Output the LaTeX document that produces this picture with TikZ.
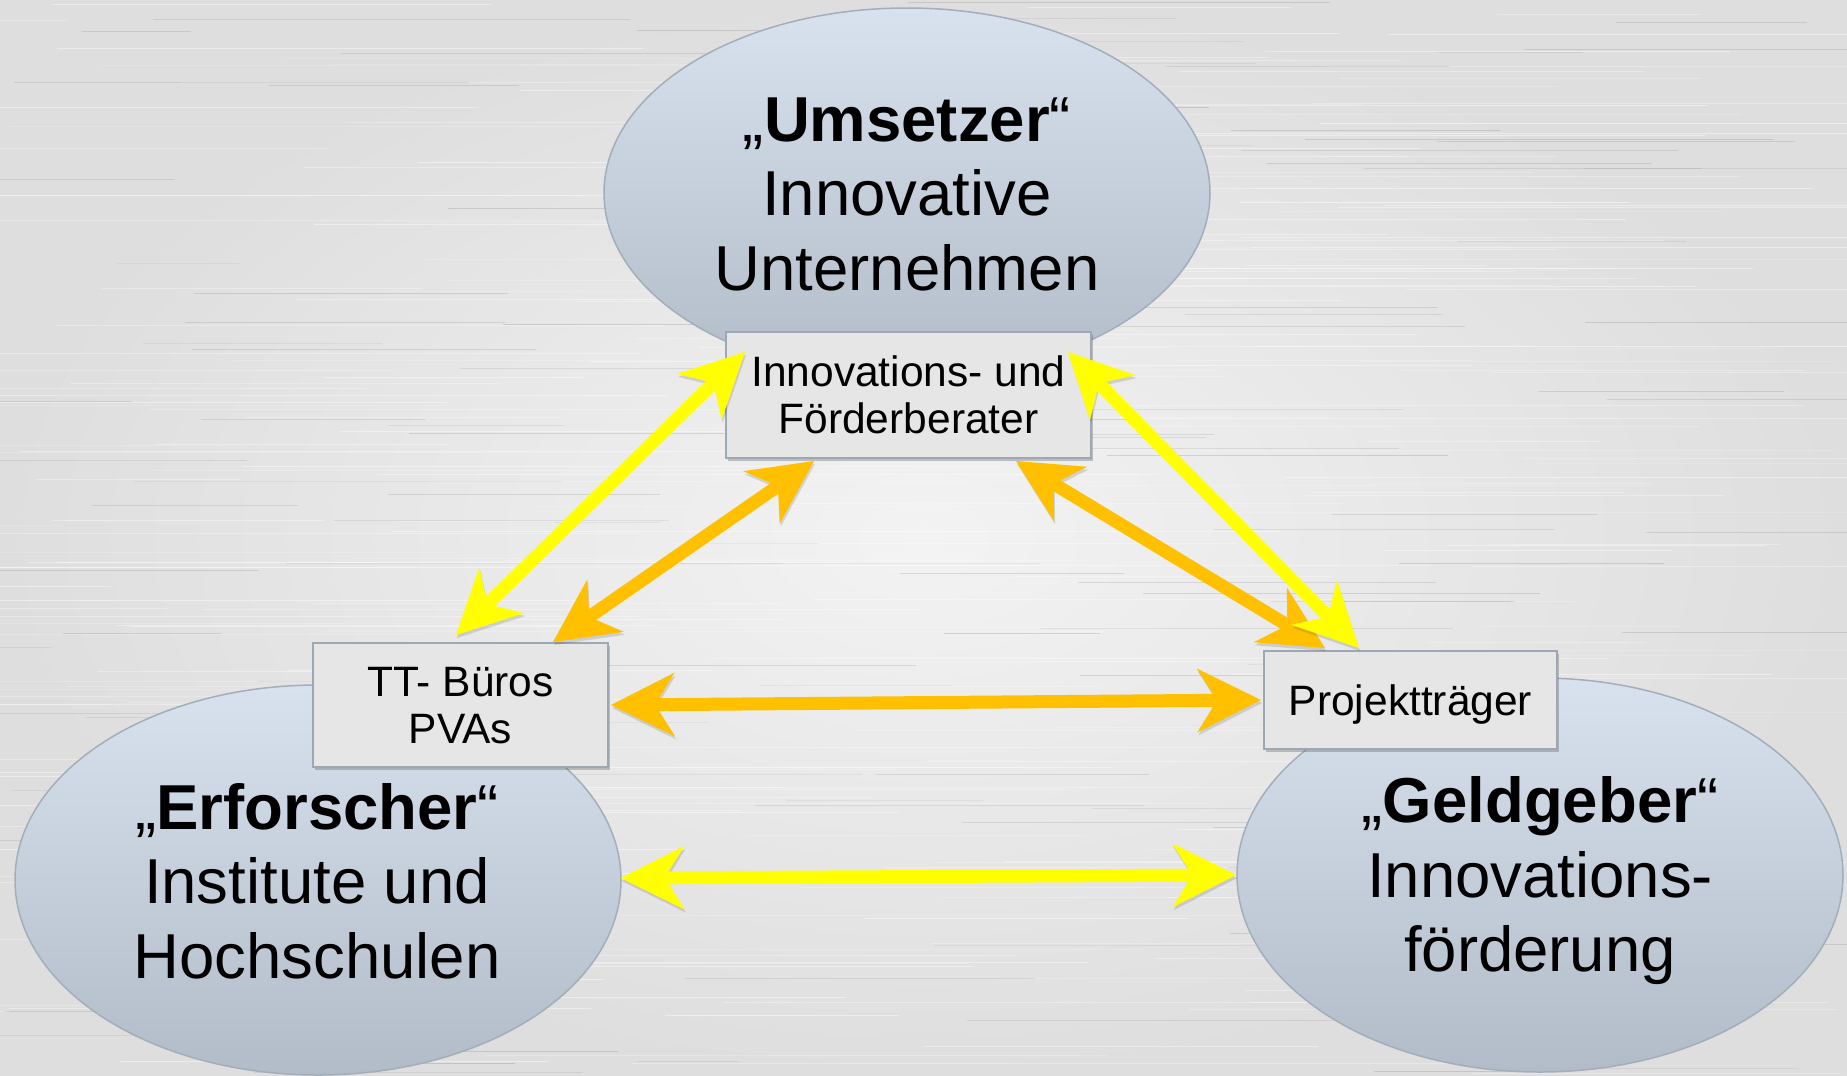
\documentclass[tikz,border=0pt]{standalone}
\usepackage{fontspec}
\setmainfont{Liberation Sans}
\usetikzlibrary{arrows.meta,shapes.geometric,shadows,calc}
\definecolor{ylw}{HTML}{FFFF00}
\definecolor{org}{HTML}{FFC000}
\definecolor{elltop}{HTML}{D8E2EE}
\definecolor{ellbot}{HTML}{B2BCC9}
\definecolor{ellline}{HTML}{A3AEBB}
\definecolor{boxfill}{HTML}{E6E6E6}
\definecolor{boxline}{HTML}{9DA8B4}
\definecolor{bgin}{HTML}{F3F3F3}
\definecolor{bgout}{HTML}{DEDEDE}
\begin{document}
\begin{tikzpicture}[x=1pt,y=-1pt,
  actor/.style={ellipse, minimum width=606pt, inner sep=0pt,
    draw=ellline, line width=1.5pt, top color=elltop, bottom color=ellbot},
  bigtxt/.style={align=center, inner sep=0pt, font=\fontsize{63.5}{74.5}\selectfont},
  infobox/.style={draw=boxline, line width=2pt, fill=boxfill, inner sep=0pt, align=center,
    text depth=0pt, font=\fontsize{42.5}{47}\selectfont,
    drop shadow={shadow xshift=2pt, shadow yshift=-3pt, opacity=0.3, fill=black!70}},
  arrshadow/.style={preaction={draw=black, opacity=0.12, transform canvas={xshift=1pt,yshift=-3pt}}},
  yarr/.style={arrshadow, draw=ylw, line width=13pt, >={Stealth[length=64pt,width=64pt,inset=20pt,line width=0pt]}, <->},
  oarr/.style={arrshadow, draw=org, line width=13pt, >={Stealth[length=64pt,width=64pt,inset=20pt,line width=0pt]}, <->}
]
% background
\fill[inner color=bgin, outer color=bgout] (0,0) rectangle (1847,1076);
\useasboundingbox (0,0) rectangle (1847,1076);
\pgfmathsetseed{7}
\foreach \i in {1,...,260}{
  \pgfmathsetmacro{\yy}{rnd*1076}
  \pgfmathsetmacro{\xa}{rnd*1847-300}
  \pgfmathsetmacro{\ll}{200+rnd*700}
  \pgfmathsetmacro{\op}{0.15+rnd*0.3}
  \draw[white, opacity=\op, line width=0.8pt] (\xa,\yy) -- ++(\ll,0);
}
\foreach \i in {1,...,120}{
  \pgfmathsetmacro{\yy}{rnd*1076}
  \pgfmathsetmacro{\xa}{rnd*1847-200}
  \pgfmathsetmacro{\ll}{100+rnd*400}
  \pgfmathsetmacro{\op}{0.04+rnd*0.08}
  \draw[black, opacity=\op, line width=0.7pt] (\xa,\yy) -- ++(\ll,0);
}
% actors
\node[actor, minimum height=370pt] (um) at (907,193) {};
\node[actor, minimum height=390pt] (er) at (318,880) {};
\node[actor, minimum height=394pt] (gg) at (1540,875) {};
\node[bigtxt] (umt) at (907,194) {„\textbf{Umsetzer}“\\Innovative\\Unternehmen};
\node[bigtxt] (ert) at (317,881) {„\textbf{Erforscher}“\\Institute und\\Hochschulen};
\node[bigtxt] (ggt) at (1540,881) {„\textbf{Geldgeber}“\\Innovations-\\förderung};
% boxes
\node[infobox, minimum width=365pt, minimum height=126pt] (tb) at (908.5,395) {Innovations- und\\Förderberater};
\node[infobox, minimum width=295pt, minimum height=124pt] (tt) at (460.5,705) {TT- Büros\\PVAs};
\node[infobox, minimum width=293pt, minimum height=98pt] (ptr) at (1410.5,700) {Projektträger};
% arrows
\draw[oarr] ($(tt.north east)+(-56,0)$) -- ($(tb.south west)+(89,2)$);
\draw[oarr] ($(tb.south east)+(-76,2)$) -- ($(ptr.north west)+(62,-2)$);
\draw[oarr] ($(tt.east)+(2,0)$) -- ($(ptr.west)+(-2,0)$);
\draw[yarr] ($(tt.north)+(-4.5,-7)$) -- ($(tb.north west)+(20,21)$);
\draw[yarr] ($(tb.north east)+(-24,21)$) -- ($(ptr.north west)+(96,-2)$);
\draw[yarr] ($(er.east)+(-1,-2)$) -- ($(gg.west)+(0,0)$);
\end{tikzpicture}
\end{document}
